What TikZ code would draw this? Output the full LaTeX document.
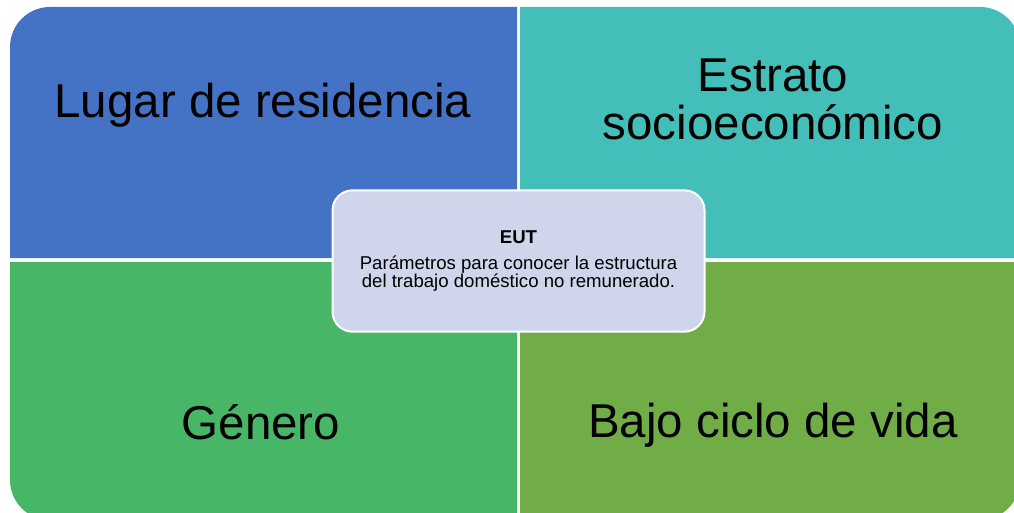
\documentclass[tikz,border=0pt]{standalone}
\usepackage{fontspec}
\setmainfont{Liberation Sans}
\definecolor{blue_set}{HTML}{4472C4}
\definecolor{teal_set}{HTML}{43BEB8}
\definecolor{green_set}{HTML}{47B767}
\definecolor{olive_set}{HTML}{70AD47}
\definecolor{lilac_set}{HTML}{CFD5EA}

\begin{document}
\begin{tikzpicture}[x=0.75pt,y=0.75pt,line join=round]

\useasboundingbox (0,0) rectangle (1014,512);
\clip (0,0) rectangle (1014,512);

%-----------------------------------------------
% the four quadrants, each one rounded at its outer corner
\fill[blue_set] (10,254) -- (10,465) arc[start angle=180,end angle=90,radius=40] -- (517,505) -- (517,254) -- cycle;
\fill[teal_set] (520,254) -- (520,505) -- (980,505) arc[start angle=90,end angle=0,radius=40] -- (1020,254) -- cycle;
\fill[green_set] (10,250) -- (517,250) -- (517,-8) -- (50,-8) arc[start angle=270,end angle=180,radius=40] -- cycle;
\fill[olive_set] (520,250) -- (1020,250) -- (1020,32) arc[start angle=0,end angle=-90,radius=40] -- (520,-8) -- cycle;
%-----------------------------------------------

% Label the quadrants
\foreach \name/\pos/\where/\label in {lugar/{263,395}/base/{Lugar de residencia},
                                      estrato/{773,413}/center/{Estrato\\socioeconómico},
                                      genero/{261,73}/base/{Género},
                                      ciclo/{773,75}/base/{Bajo ciclo de vida}}
{
  \node[anchor=\where,align=center,inner sep=0pt,font=\fontsize{35.6}{36}\selectfont] (\name) at (\pos) {\label};
}

%-----------------------------------------------
% centre box
\node[draw=white,line width=1.5pt,fill=lilac_set,rounded corners=15pt,
      minimum width=279pt,minimum height=106pt,align=center,
      font=\fontsize{13.95}{13.5}\selectfont] (eut) at (518.5,251)
  {\textbf{EUT}\\[6pt]Parámetros para conocer la estructura\\del trabajo doméstico no remunerado.};

\end{tikzpicture}
\end{document}
